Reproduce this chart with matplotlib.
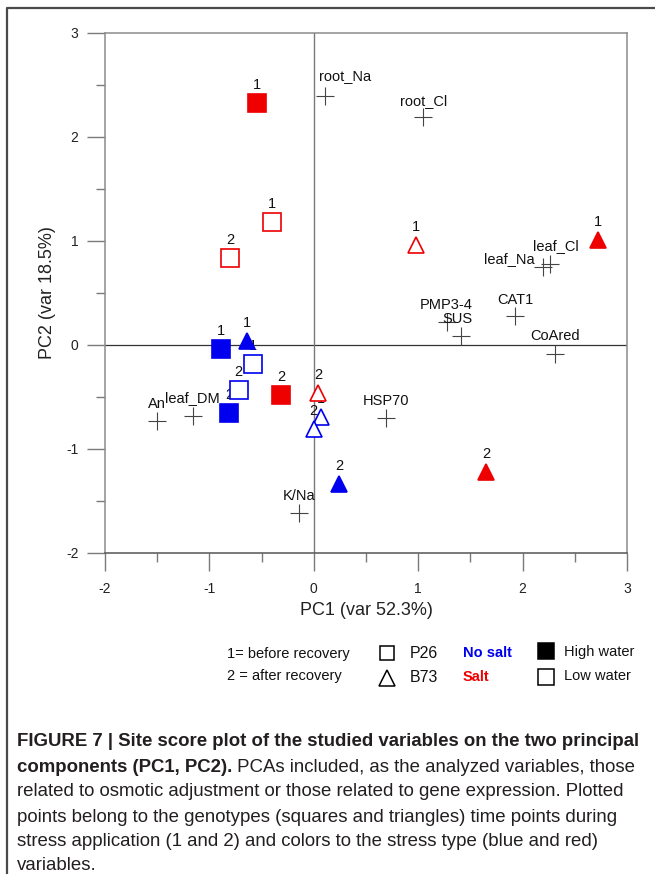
import matplotlib
matplotlib.use("Agg")
import matplotlib.pyplot as plt
from matplotlib.lines import Line2D
from matplotlib.ticker import MultipleLocator

plt.rcParams["font.family"] = ["Liberation Sans", "DejaVu Sans"]

# ---- site scores of the 16 samples ----
sample_genotype = ["P26"] * 8 + ["B73"] * 8
sample_salt = (["Salt"] * 4 + ["No salt"] * 4) * 2
sample_water = (["High", "High", "Low", "Low"] * 4)
sample_time = ["1", "2"] * 8
sample_pc1 = [-0.54, -0.31, -0.40, -0.80, -0.89, -0.81, -0.58, -0.72,
              2.72, 1.65, 0.98, 0.04, -0.64, 0.24, 0.07, 0.00]
sample_pc2 = [2.33, -0.48, 1.18, 0.84, -0.04, -0.65, -0.18, -0.43,
              1.01, -1.22, 0.96, -0.46, 0.04, -1.34, -0.69, -0.81]

# ---- variable scores ----
var_names = ["root_Na", "root_Cl", "leaf_Cl", "leaf_Na", "PMP3-4", "SUS",
             "CAT1", "CoAred", "HSP70", "K/Na", "An", "leaf_DM"]
var_pc1 = [0.11, 1.05, 2.26, 2.20, 1.28, 1.41, 1.93, 2.31, 0.69, -0.14, -1.50, -1.16]
var_pc2 = [2.39, 2.19, 0.78, 0.75, 0.22, 0.09, 0.28, -0.09, -0.70, -1.62, -0.73, -0.68]

# label offsets (pixels) for the variable names
var_offsets = {"root_Na": (20, 20), "root_Cl": (0, 16), "leaf_Cl": (6, 18),
               "leaf_Na": (-34, 8), "PMP3-4": (-1, 17), "SUS": (-4, 17),
               "CAT1": (0, 16), "CoAred": (0, 18), "HSP70": (0, 17),
               "K/Na": (0, 17), "An": (0, 17), "leaf_DM": (0, 18)}

x_ticks = [-2, -1, 0, 1, 2, 3]
y_ticks = [-2, -1, 0, 1, 2, 3]

salt_colors = {"Salt": "#ee0000", "No salt": "#0000ee"}
geno_markers = {"P26": "s", "B73": "^"}

W, H = 655, 874
fig = plt.figure(figsize=(W / 100, H / 100), dpi=100)


def fx(px):
    return px / W


def fy(py):
    return 1 - py / H


ax = fig.add_axes([fx(105), fy(553), (627 - 105) / W, (553 - 33) / H])
ax.set_xlim(-2, 3)
ax.set_ylim(-2, 3)

# reference lines through the origin
ax.axhline(0, color="#333333", lw=0.9, zorder=1)
ax.axvline(0, color="#7a7a7a", lw=1.0, zorder=1)

# variables as crosses
for name, x, y in zip(var_names, var_pc1, var_pc2):
    ax.plot(x, y, marker="+", ms=13, mew=0.8, color="#444444", ls="none", zorder=2)
    dx, dy = var_offsets[name]
    ax.annotate(name, (x, y), xytext=(dx, dy), textcoords="offset pixels",
                ha="center", va="center", fontsize=10.5, color="#111111", zorder=3)

# samples
for g, s, w, t, x, y in zip(sample_genotype, sample_salt, sample_water,
                             sample_time, sample_pc1, sample_pc2):
    c = salt_colors[s]
    face = c if w == "High" else "white"
    ax.plot(x, y, marker=geno_markers[g], ms=12.5 if g == "P26" else 12,
            mfc=face, mec=c, mew=1.2, ls="none", zorder=4)
    ax.annotate(t, (x, y), xytext=(0, 18), textcoords="offset pixels",
                ha="center", va="center", fontsize=10.5, color="#111111", zorder=3)

# axes styling
for side in ["top", "right", "left"]:
    ax.spines[side].set_color("#8c8c8c")
    ax.spines[side].set_linewidth(1.1)
ax.spines["bottom"].set_color("#555555")
ax.spines["bottom"].set_linewidth(1.1)

ax.set_xticks(x_ticks)
ax.set_yticks(y_ticks)
ax.set_xticklabels([str(v) for v in x_ticks])
ax.set_yticklabels([str(v) for v in y_ticks])
ax.xaxis.set_minor_locator(MultipleLocator(0.5))
ax.yaxis.set_minor_locator(MultipleLocator(0.5))
ax.tick_params(which="major", direction="out", length=13, width=1.0,
               color="#7a7a7a", labelsize=10, labelcolor="#222222")
ax.tick_params(axis="x", which="major", pad=8)
ax.tick_params(axis="y", which="major", pad=6)
ax.tick_params(which="minor", direction="out", length=6.5, width=1.0, color="#7a7a7a")

ax.set_xlabel("PC1 (var 52.3%)", fontsize=13, color="#222222")
ax.set_ylabel("PC2 (var 18.5%)", fontsize=13, color="#222222")
ax.xaxis.set_label_coords(0.5, -0.094)
ax.yaxis.set_label_coords(-0.094, 0.5)

# ---- key below the plot ----
key_fs = 10.5
fig.text(fx(227), fy(654), "1= before recovery", fontsize=key_fs, va="center", ha="left", color="#111111")
fig.text(fx(227), fy(676), "2 = after recovery", fontsize=key_fs, va="center", ha="left", color="#111111")

fig.add_artist(Line2D([fx(387)], [fy(653)], marker="s", ms=10.5, mfc="white", mec="black", mew=1.1, ls="none"))
fig.add_artist(Line2D([fx(387)], [fy(678)], marker="^", ms=11, mfc="white", mec="black", mew=1.1, ls="none"))
fig.text(fx(410), fy(654), "P26", fontsize=11.5, va="center", ha="left", color="#111111")
fig.text(fx(410), fy(678), "B73", fontsize=11.5, va="center", ha="left", color="#111111")

fig.text(fx(463), fy(653), "No salt", fontsize=key_fs, fontweight="bold", va="center", ha="left", color="#0000ee")
fig.text(fx(463), fy(677), "Salt", fontsize=key_fs, fontweight="bold", va="center", ha="left", color="#ee0000")

fig.add_artist(Line2D([fx(546)], [fy(651)], marker="s", ms=11.5, mfc="black", mec="black", mew=1.1, ls="none"))
fig.add_artist(Line2D([fx(546)], [fy(677)], marker="s", ms=11.5, mfc="white", mec="black", mew=1.1, ls="none"))
fig.text(fx(564), fy(652), "High water", fontsize=key_fs, va="center", ha="left", color="#111111")
fig.text(fx(564), fy(676), "Low water", fontsize=key_fs, va="center", ha="left", color="#111111")

# ---- outer frame ----
fig.add_artist(Line2D([fx(7), fx(7), 1.0], [0.0, fy(8), fy(8)], color="#4a4a4a", lw=1.6))

# ---- caption ----
cap_fs = 13.4
cap_color = "#231f20"
cap_x = fx(17)
cap_y = [742, 767, 792, 817, 842, 866]
fig.text(cap_x, fy(cap_y[0]), "FIGURE 7 | Site score plot of the studied variables on the two principal",
         fontsize=cap_fs, fontweight="bold", va="center", ha="left", color=cap_color)
bold_part = fig.text(cap_x, fy(cap_y[1]), "components (PC1, PC2).", fontsize=cap_fs,
                     fontweight="bold", va="center", ha="left", color=cap_color)
renderer = fig.canvas.get_renderer()
bx1 = bold_part.get_window_extent(renderer).x1
fig.text(bx1 / W, fy(cap_y[1]), " PCAs included, as the analyzed variables, those",
         fontsize=cap_fs, va="center", ha="left", color=cap_color)
rest = ["related to osmotic adjustment or those related to gene expression. Plotted",
        "points belong to the genotypes (squares and triangles) time points during",
        "stress application (1 and 2) and colors to the stress type (blue and red)",
        "variables."]
for line, yy in zip(rest, cap_y[2:]):
    fig.text(cap_x, fy(yy), line, fontsize=cap_fs, va="center", ha="left", color=cap_color)

fig.savefig("out.png", dpi=100)
